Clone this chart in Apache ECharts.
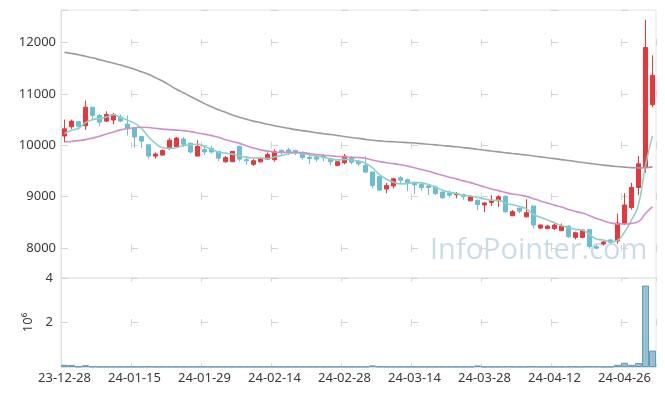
<!DOCTYPE html>
<html>
<head>
<meta charset="utf-8">
<script src="https://cdn.jsdelivr.net/npm/echarts@6/dist/echarts.min.js"></script>
<style>html,body{margin:0;padding:0;background:#fff}#c{width:665px;height:396px}</style>
</head>
<body>
<div id="c"></div>
<script>
const categories = ['23-12-28','24-01-02','24-01-03','24-01-04','24-01-05','24-01-08','24-01-09','24-01-10','24-01-11','24-01-12',
'24-01-15','24-01-16','24-01-17','24-01-18','24-01-19','24-01-22','24-01-23','24-01-24','24-01-25','24-01-26',
'24-01-29','24-01-30','24-01-31','24-02-01','24-02-02','24-02-05','24-02-06','24-02-07','24-02-08','24-02-13',
'24-02-14','24-02-15','24-02-16','24-02-19','24-02-20','24-02-21','24-02-22','24-02-23','24-02-26','24-02-27',
'24-02-28','24-02-29','24-03-04','24-03-05','24-03-06','24-03-07','24-03-08','24-03-11','24-03-12','24-03-13',
'24-03-14','24-03-15','24-03-18','24-03-19','24-03-20','24-03-21','24-03-22','24-03-25','24-03-26','24-03-27',
'24-03-28','24-03-29','24-04-01','24-04-02','24-04-03','24-04-04','24-04-05','24-04-08','24-04-09','24-04-11',
'24-04-12','24-04-15','24-04-16','24-04-17','24-04-18','24-04-19','24-04-22','24-04-23','24-04-24','24-04-25',
'24-04-26','24-04-29','24-04-30','24-05-02','24-05-03'];

const opens = [10180,10360,10460,10380,10740,10580,10470,10490,10550,10410,
10340,10170,10010,9790,9810,9940,9970,10120,10040,9790,
9920,9940,9880,9680,9680,9980,9720,9630,9680,9730,
9720,9900,9910,9900,9850,9770,9770,9800,9740,9610,
9660,9760,9690,9610,9480,9390,9150,9210,9370,9330,
9270,9240,9210,9190,9090,9070,9040,9040,8920,8930,
8840,8890,8920,9010,8630,8780,8610,8820,8390,8380,
8380,8340,8430,8210,8210,8360,8030,8080,8160,8140,
8480,8790,9180,9570,10790];
const closes = [10320,10470,10370,10740,10580,10450,10600,10600,10470,10320,
10160,10080,9790,9830,9900,10100,10140,10020,9870,9980,
9870,9870,9750,9760,9880,9730,9700,9700,9750,9820,
9880,9860,9860,9850,9760,9740,9730,9760,9680,9680,
9790,9670,9640,9480,9220,9130,9220,9350,9320,9270,
9230,9180,9180,9060,8980,9030,9060,9000,9000,8850,
8880,8930,9000,8710,8710,8720,8690,8450,8450,8430,
8450,8430,8220,8300,8350,8030,8000,8120,8110,8490,
8840,9180,9640,11900,11360];
const lows = [10060,10320,10300,10300,10500,10370,10450,10410,10450,10190,
9950,9950,9740,9740,9800,9910,9950,9970,9840,9790,
9810,9840,9690,9660,9680,9690,9620,9600,9660,9710,
9680,9790,9810,9810,9720,9640,9680,9690,9610,9590,
9630,9630,9600,9460,9160,9110,9070,9160,9250,9110,
9050,9110,9030,9030,8960,8980,8970,8940,8920,8740,
8700,8820,8800,8680,8630,8680,8600,8380,8370,8370,
8350,8340,8200,8170,8190,7990,7980,8050,8090,8080,
8450,8750,9030,9470,10740];
const highs = [10500,10500,10470,10870,10740,10610,10660,10630,10600,10580,
10340,10170,10010,9860,9920,10140,10160,10160,10050,10100,
9970,9990,9890,9790,9890,9990,9790,9730,9760,9860,
9920,9920,9950,9910,9880,9790,9810,9830,9760,9690,
9830,9790,9720,9790,9490,9400,9270,9370,9400,9350,
9280,9290,9230,9220,9100,9120,9090,9060,9030,8950,
8890,9030,9030,9020,8740,8780,8950,8820,8460,8450,
8480,8480,8440,8320,8370,8370,8060,8140,8180,8670,
9070,9270,9790,12440,11750];
const volumes = [100000,90000,20000,80000,20000,15000,15000,15000,15000,15000,
15000,15000,20000,15000,15000,15000,15000,15000,15000,15000,
15000,15000,15000,15000,15000,15000,15000,15000,15000,15000,
15000,15000,15000,15000,15000,15000,15000,15000,15000,15000,
15000,15000,15000,15000,70000,20000,15000,15000,15000,15000,
15000,15000,15000,15000,15000,15000,15000,15000,15000,70000,
15000,15000,15000,20000,15000,15000,15000,20000,15000,15000,
15000,15000,20000,15000,15000,20000,20000,15000,15000,100000,
190000,100000,180000,3660000,740000];
const ma5 = [10230,10290,10330,10440,10495,10522,10549,10594,10541,10489,
10431,10327,10167,10037,9953,9940,9952,9997,10006,10022,
9976,9922,9869,9847,9828,9799,9765,9754,9752,9741,
9772,9803,9836,9855,9842,9814,9789,9769,9734,9717,
9727,9714,9690,9652,9561,9429,9340,9281,9249,9258,
9279,9270,9235,9184,9127,9087,9063,9026,9013,8987,
8958,8932,8932,8874,8844,8811,8764,8654,8602,8548,
8493,8441,8396,8366,8349,8265,8179,8158,8121,8149,
8311,8546,8852,9609,10183];
const ma20 = [10064,10075,10090,10110,10140,10175,10220,10260,10300,10325,
10340,10350,10345,10330,10315,10305,10295,10285,10265,10240,
10217,10188,10157,10108,10073,10037,9992,9947,9911,9886,
9872,9861,9864,9865,9858,9840,9820,9807,9797,9782,
9778,9768,9762,9748,9715,9685,9661,9644,9623,9595,
9562,9528,9494,9455,9416,9380,9347,9308,9274,9233,
9188,9151,9119,9080,9054,9034,9007,8962,8918,8876,
8837,8800,8752,8714,8682,8632,8579,8535,8491,8472,
8470,8482,8515,8674,8807];
const maLong = [11806,11785,11760,11730,11700,11665,11630,11595,11560,11520,
11480,11430,11380,11315,11250,11170,11090,11020,10950,10880,
10810,10750,10690,10640,10590,10545,10505,10470,10440,10410,
10380,10355,10330,10305,10285,10265,10245,10225,10210,10190,
10170,10150,10135,10115,10097,10085,10075,10068,10060,10052,
10045,10033,10020,10008,9995,9983,9970,9955,9940,9922,
9905,9888,9872,9856,9840,9825,9810,9792,9775,9758,
9740,9722,9705,9685,9665,9648,9630,9615,9600,9588,
9575,9565,9560,9565,9580];
const priceMin = 7420, priceMax = 12630;
const volMax = 4000000, volStep = 2000000;

const candles = categories.map((_, i) => [opens[i], closes[i], lows[i], highs[i]]);

const FONT = 'Noto Sans';
const labelStyle = { color: '#3a3a3a', fontSize: 13, fontFamily: FONT };
const crossColor = '#d4d4d4';

const chart = echarts.init(document.getElementById('c'), null, { renderer: 'canvas' });
chart.setOption({
  animation: false,
  backgroundColor: '#ffffff',
  grid: [
    { left: 61, right: 9, top: 10, height: 268, show: true, borderColor: '#e4e4e4', borderWidth: 1 },
    { left: 61, right: 9, top: 278, height: 89, show: true, borderColor: '#e4e4e4', borderWidth: 1 }
  ],
  graphic: [{
    type: 'text', left: 430, top: 236, z: 0,
    style: { text: 'InfoPointer.com', fontSize: 29, fontFamily: 'Open Sans', fill: '#cadde7' }
  }],
  xAxis: [
    { type: 'category', gridIndex: 0, data: categories, boundaryGap: true,
      axisLine: { show: false }, axisTick: { show: false }, axisLabel: { show: false },
      splitLine: { show: true, interval: 9, lineStyle: { color: crossColor, width: 1, type: [7, 44.44], dashOffset: 22.54 } } },
    { type: 'category', gridIndex: 1, data: categories, boundaryGap: true,
      axisLine: { show: true, lineStyle: { color: '#e0e0e0' } }, axisTick: { show: false },
      axisLabel: Object.assign({ interval: 9, margin: 5 }, labelStyle),
      splitLine: { show: true, interval: 9, lineStyle: { color: crossColor, width: 1, type: [7, 37.5], dashOffset: 3.5 } } }
  ],
  yAxis: [
    { type: 'value', gridIndex: 0, min: priceMin, max: priceMax, scale: true,
      axisLine: { show: true, lineStyle: { color: '#e0e0e0' } }, axisTick: { show: false },
      axisLabel: Object.assign({ margin: 5, showMinLabel: false, showMaxLabel: false, formatter: v => String(v) }, labelStyle),
      splitLine: { show: true, lineStyle: { color: crossColor, width: 1, type: [7, 63], dashOffset: 0 } } },
    { type: 'value', gridIndex: 1, min: 0, max: volMax, interval: volStep,
      name: '10⁶', nameLocation: 'middle', nameRotate: 90, nameGap: 22,
      nameTextStyle: { color: '#3a3a3a', fontSize: 13, fontFamily: FONT },
      axisLine: { show: true, lineStyle: { color: '#e0e0e0' } }, axisTick: { show: false },
      axisLabel: Object.assign({ margin: 8, showMinLabel: false, formatter: v => String(v / 1000000) }, labelStyle),
      splitLine: { show: true, lineStyle: { color: crossColor, width: 1, type: [7, 63], dashOffset: 0 } } }
  ],
  series: [
    { type: 'candlestick', xAxisIndex: 0, yAxisIndex: 0, data: candles, barWidth: '72%',
      itemStyle: { color: '#e8363b', color0: '#6bbdd6', borderColor: '#e8363b', borderColor0: '#6bbdd6', borderWidth: 1 } },
    { type: 'line', xAxisIndex: 0, yAxisIndex: 0, data: ma5, smooth: true, symbol: 'none',
      lineStyle: { color: '#8fd0c4', width: 1.6 }, z: 3 },
    { type: 'line', xAxisIndex: 0, yAxisIndex: 0, data: ma20, smooth: true, symbol: 'none',
      lineStyle: { color: '#cf8fcb', width: 1.6 }, z: 3 },
    { type: 'line', xAxisIndex: 0, yAxisIndex: 0, data: maLong, smooth: true, symbol: 'none',
      lineStyle: { color: '#9b9b9b', width: 1.6 }, z: 3 },
    { type: 'bar', xAxisIndex: 1, yAxisIndex: 1, data: volumes, barCategoryGap: '0%',
      itemStyle: { color: 'rgba(125,178,200,0.8)', borderColor: '#5f9db8', borderWidth: 1 } }
  ]
});
</script>
</body>
</html>
